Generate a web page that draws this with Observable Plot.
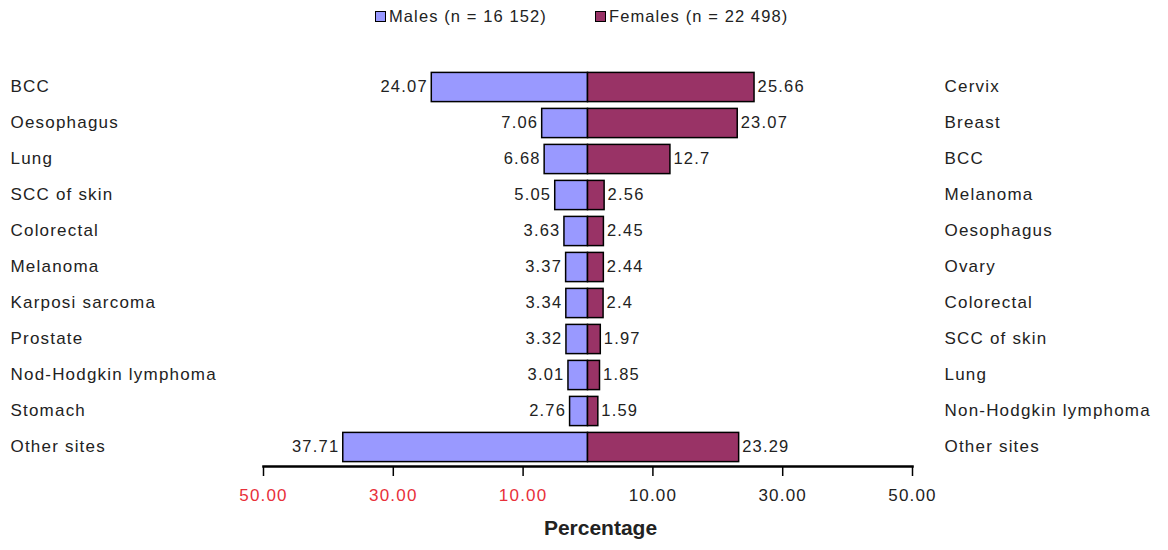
<!DOCTYPE html>
<html>
<head>
<meta charset="utf-8">
<script src="https://cdn.jsdelivr.net/npm/d3@7"></script>
<script src="https://cdn.jsdelivr.net/npm/@observablehq/plot@0.6"></script>
<style>
  html, body { margin: 0; padding: 0; background: #fff; }
  body { width: 1168px; height: 550px; overflow: hidden; font-family: "Liberation Sans", Arial, sans-serif; }
  #legend { height: 36px; position: relative; font-size: 16.5px; letter-spacing: 1.1px; color: #222; }
  #legend .item { position: absolute; top: 7px; display: flex; align-items: center; }
  #legend .sw { width: 9px; height: 9px; border: 1.5px solid #000; margin-right: 3px; }
  svg { display: block; }
</style>
</head>
<body>
<div id="legend">
  <div class="item" style="left:375px"><span class="sw" style="background:#9999ff"></span>Males (n = 16 152)</div>
  <div class="item" style="left:595px"><span class="sw" style="background:#993366"></span>Females (n = 22 498)</div>
</div>
<div id="chart"></div>
<script>
// Leading cancer sites, ranked separately for each sex
const maleSites = ["BCC", "Oesophagus", "Lung", "SCC of skin", "Colorectal", "Melanoma", "Karposi sarcoma", "Prostate", "Nod-Hodgkin lymphoma", "Stomach", "Other sites"];
const maleValues = [24.07, 7.06, 6.68, 5.05, 3.63, 3.37, 3.34, 3.32, 3.01, 2.76, 37.71];
const femaleSites = ["Cervix", "Breast", "BCC", "Melanoma", "Oesophagus", "Ovary", "Colorectal", "SCC of skin", "Lung", "Non-Hodgkin lymphoma", "Other sites"];
const femaleValues = [25.66, 23.07, 12.7, 2.56, 2.45, 2.44, 2.4, 1.97, 1.85, 1.59, 23.29];
const xTicks = [-50, -30, -10, 10, 30, 50];

const rows = maleSites.map((m, i) => ({
  rank: i,
  male: m,
  maleValue: maleValues[i],
  female: femaleSites[i],
  femaleValue: femaleValues[i]
}));

const maleColor = "#9999ff";
const femaleColor = "#993366";
const textColor = "#222";
const negTickColor = "#e8303a";
const inset = 3.4;

const chart = Plot.plot({
  width: 1168,
  height: 514,
  marginLeft: 263,
  marginRight: 256,
  marginTop: 31,
  marginBottom: 84,
  style: { fontFamily: "'Liberation Sans', Arial, sans-serif", fontSize: "17px", letterSpacing: "1.2px", color: textColor, background: "#fff" },
  x: {
    domain: [-50, 50],
    ticks: xTicks,
    tickSize: 10,
    tickPadding: 12,
    tickFormat: d => Math.abs(d).toFixed(2),
    label: null
  },
  y: { domain: d3.range(rows.length), padding: 0, axis: null },
  marks: [
    // male bars grow leftward, female bars rightward
    Plot.barX(rows, { y: "rank", x1: 0, x2: d => -d.maleValue, fill: maleColor, stroke: "#000", strokeWidth: 1.5, insetTop: inset, insetBottom: inset }),
    Plot.barX(rows, { y: "rank", x1: 0, x2: "femaleValue", fill: femaleColor, stroke: "#000", strokeWidth: 1.5, insetTop: inset, insetBottom: inset }),
    // heavy baseline under the bars
    Plot.frame({ anchor: "bottom", stroke: "#000", strokeWidth: 2.5 }),
    // value labels at the bar ends
    Plot.text(rows, { y: "rank", x: d => -d.maleValue, text: d => String(d.maleValue), textAnchor: "end", dx: -4, dy: -1, fill: textColor, fontSize: 16.5 }),
    Plot.text(rows, { y: "rank", x: "femaleValue", text: d => String(d.femaleValue), textAnchor: "start", dx: 3, dy: -1, fill: textColor, fontSize: 16.5 }),
    // site names on both sides
    Plot.text(rows, { y: "rank", text: "male", frameAnchor: "left", textAnchor: "start", dx: -253, dy: -1, fill: textColor, fontSize: 17 }),
    Plot.text(rows, { y: "rank", text: "female", frameAnchor: "right", textAnchor: "start", dx: 32, dy: -1, fill: textColor, fontSize: 17 }),
    // axis title
    Plot.text(["Percentage"], { frameAnchor: "bottom", dx: 12.5, dy: 68, fontSize: 21, fontWeight: "bold", fill: textColor })
  ]
});

const svg = d3.select(chart);
// the axis title is set without extra tracking
svg.selectAll("g[aria-label='text']").filter((d, i, n) => i === n.length - 1).attr("letter-spacing", 0);
// axis styling: black ticks, red labels on the male (negative) side
svg.selectAll("[aria-label^='x-axis'] path, [aria-label^='x-axis'] line").attr("stroke", "#000").attr("stroke-width", 1.5);
svg.selectAll("[aria-label='x-axis tick label'] text, [aria-label='x-axis'] g.tick text")
  .attr("fill", (d, i) => i < 3 ? negTickColor : textColor);

document.getElementById("chart").appendChild(chart);
</script>
</body>
</html>
